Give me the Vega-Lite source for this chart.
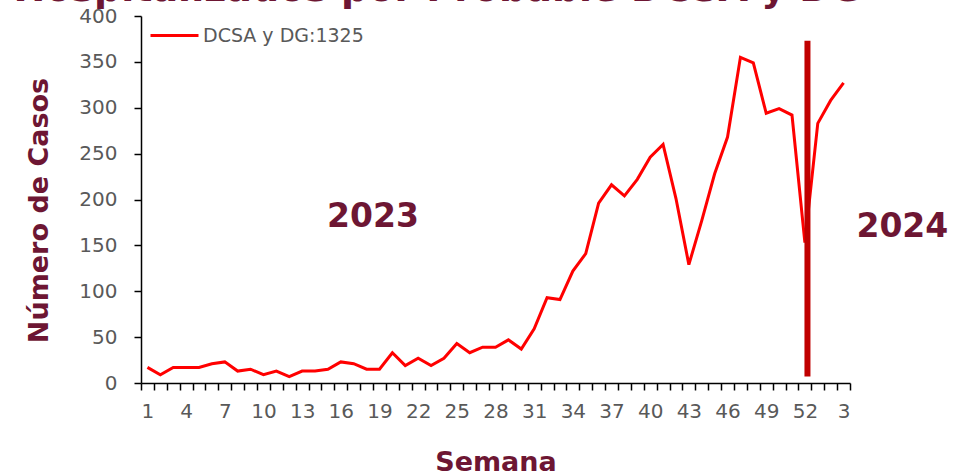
{
  "$schema": "https://vega.github.io/schema/vega-lite/v6.json",
  "width": 709,
  "height": 367,
  "autosize": {"type": "none"},
  "padding": {"left": 141, "top": 16, "right": 127, "bottom": 92},
  "background": "white",
  "title": {
    "text": "Casos Hospitalizados por Probable DCSA y DG",
    "anchor": "end",
    "frame": "group",
    "font": "DejaVu Sans",
    "fontSize": 38,
    "fontWeight": "bold",
    "color": "#6D1633",
    "baseline": "alphabetic",
    "offset": 0,
    "dx": 12,
    "dy": 33
  },
  "config": {
    "view": {"stroke": null},
    "axis": {
      "labelFont": "DejaVu Sans",
      "labelFontSize": 20,
      "labelColor": "#595959",
      "titleFont": "DejaVu Sans",
      "titleFontSize": 27,
      "titleFontWeight": "bold",
      "titleColor": "#6D1633",
      "domainColor": "#000000",
      "tickColor": "#000000",
      "domainWidth": 1.5,
      "tickWidth": 1.5,
      "tickSize": 7,
      "grid": false
    },
    "legend": {
      "labelFont": "DejaVu Sans",
      "labelFontSize": 19,
      "labelColor": "#595959",
      "labelLimit": 400
    }
  },
  "datasets": {
    "casos": [
      {"semana": 1, "casos": 17, "serie": "DCSA y DG:1325"},
      {"semana": 2, "casos": 9, "serie": "DCSA y DG:1325"},
      {"semana": 3, "casos": 17, "serie": "DCSA y DG:1325"},
      {"semana": 4, "casos": 17, "serie": "DCSA y DG:1325"},
      {"semana": 5, "casos": 17, "serie": "DCSA y DG:1325"},
      {"semana": 6, "casos": 21, "serie": "DCSA y DG:1325"},
      {"semana": 7, "casos": 23, "serie": "DCSA y DG:1325"},
      {"semana": 8, "casos": 13, "serie": "DCSA y DG:1325"},
      {"semana": 9, "casos": 15, "serie": "DCSA y DG:1325"},
      {"semana": 10, "casos": 9, "serie": "DCSA y DG:1325"},
      {"semana": 11, "casos": 13, "serie": "DCSA y DG:1325"},
      {"semana": 12, "casos": 7, "serie": "DCSA y DG:1325"},
      {"semana": 13, "casos": 13, "serie": "DCSA y DG:1325"},
      {"semana": 14, "casos": 13, "serie": "DCSA y DG:1325"},
      {"semana": 15, "casos": 15, "serie": "DCSA y DG:1325"},
      {"semana": 16, "casos": 23, "serie": "DCSA y DG:1325"},
      {"semana": 17, "casos": 21, "serie": "DCSA y DG:1325"},
      {"semana": 18, "casos": 15, "serie": "DCSA y DG:1325"},
      {"semana": 19, "casos": 15, "serie": "DCSA y DG:1325"},
      {"semana": 20, "casos": 33, "serie": "DCSA y DG:1325"},
      {"semana": 21, "casos": 19, "serie": "DCSA y DG:1325"},
      {"semana": 22, "casos": 27, "serie": "DCSA y DG:1325"},
      {"semana": 23, "casos": 19, "serie": "DCSA y DG:1325"},
      {"semana": 24, "casos": 27, "serie": "DCSA y DG:1325"},
      {"semana": 25, "casos": 43, "serie": "DCSA y DG:1325"},
      {"semana": 26, "casos": 33, "serie": "DCSA y DG:1325"},
      {"semana": 27, "casos": 39, "serie": "DCSA y DG:1325"},
      {"semana": 28, "casos": 39, "serie": "DCSA y DG:1325"},
      {"semana": 29, "casos": 47, "serie": "DCSA y DG:1325"},
      {"semana": 30, "casos": 37, "serie": "DCSA y DG:1325"},
      {"semana": 31, "casos": 59, "serie": "DCSA y DG:1325"},
      {"semana": 32, "casos": 93, "serie": "DCSA y DG:1325"},
      {"semana": 33, "casos": 91, "serie": "DCSA y DG:1325"},
      {"semana": 34, "casos": 122, "serie": "DCSA y DG:1325"},
      {"semana": 35, "casos": 141, "serie": "DCSA y DG:1325"},
      {"semana": 36, "casos": 196, "serie": "DCSA y DG:1325"},
      {"semana": 37, "casos": 216, "serie": "DCSA y DG:1325"},
      {"semana": 38, "casos": 204, "serie": "DCSA y DG:1325"},
      {"semana": 39, "casos": 222, "serie": "DCSA y DG:1325"},
      {"semana": 40, "casos": 246, "serie": "DCSA y DG:1325"},
      {"semana": 41, "casos": 260, "serie": "DCSA y DG:1325"},
      {"semana": 42, "casos": 201, "serie": "DCSA y DG:1325"},
      {"semana": 43, "casos": 129, "serie": "DCSA y DG:1325"},
      {"semana": 44, "casos": 177, "serie": "DCSA y DG:1325"},
      {"semana": 45, "casos": 228, "serie": "DCSA y DG:1325"},
      {"semana": 46, "casos": 268, "serie": "DCSA y DG:1325"},
      {"semana": 47, "casos": 355, "serie": "DCSA y DG:1325"},
      {"semana": 48, "casos": 349, "serie": "DCSA y DG:1325"},
      {"semana": 49, "casos": 294, "serie": "DCSA y DG:1325"},
      {"semana": 50, "casos": 299, "serie": "DCSA y DG:1325"},
      {"semana": 51, "casos": 292, "serie": "DCSA y DG:1325"},
      {"semana": 52, "casos": 153, "serie": "DCSA y DG:1325"},
      {"semana": 53, "casos": 283, "serie": "DCSA y DG:1325"},
      {"semana": 54, "casos": 308, "serie": "DCSA y DG:1325"},
      {"semana": 55, "casos": 327, "serie": "DCSA y DG:1325"}
    ],
    "corte": [
      {"semana": 52.2, "desde": 7, "hasta": 373}
    ],
    "anios": [
      {"semana": 18.5, "casos": 170.5, "etiqueta": "2023"},
      {"semana": 59.56, "casos": 159, "etiqueta": "2024"}
    ]
  },
  "layer": [
    {
      "data": {"name": "casos"},
      "mark": {"type": "line", "strokeWidth": 3, "interpolate": "linear"},
      "encoding": {
        "x": {
          "field": "semana",
          "type": "quantitative",
          "scale": {"domain": [0.5, 55.5], "nice": false, "zero": false},
          "axis": {
            "title": "Semana",
            "values": [0.5, 1.5, 2.5, 3.5, 4.5, 5.5, 6.5, 7.5, 8.5, 9.5, 10.5, 11.5, 12.5, 13.5, 14.5, 15.5, 16.5, 17.5, 18.5, 19.5, 20.5, 21.5, 22.5, 23.5, 24.5, 25.5, 26.5, 27.5, 28.5, 29.5, 30.5, 31.5, 32.5, 33.5, 34.5, 35.5, 36.5, 37.5, 38.5, 39.5, 40.5, 41.5, 42.5, 43.5, 44.5, 45.5, 46.5, 47.5, 48.5, 49.5, 50.5, 51.5, 52.5, 53.5, 54.5, 55.5],
            "tickCount": 200,
            "labelExpr": "((datum.value + 0.5 - 1) % 3 == 0 && datum.value < 55) ? ((datum.value + 0.5) > 52 ? (datum.value + 0.5 - 52) : (datum.value + 0.5)) : ''",
            "labelOffset": 6.45,
            "labelFlush": false,
            "labelOverlap": false,
            "labelBound": false,
            "labelPadding": 11,
            "titleY": 87,
            "titleBaseline": "alphabetic"
          }
        },
        "y": {
          "field": "casos",
          "type": "quantitative",
          "scale": {"domain": [0, 400], "nice": false},
          "axis": {
            "title": "Número de Casos",
            "values": [0, 50, 100, 150, 200, 250, 300, 350, 400],
            "tickCount": 20,
            "labelPadding": 17,
            "titleX": -94,
            "titleY": 194,
            "titleAlign": "center",
            "titleBaseline": "alphabetic",
            "titleAngle": -90
          }
        },
        "color": {
          "field": "serie",
          "type": "nominal",
          "scale": {"range": ["#FF0000"]},
          "legend": {
            "title": null,
            "orient": "none",
            "legendX": 8,
            "legendY": -6,
            "symbolType": "stroke",
            "symbolSize": 2304,
            "symbolStrokeWidth": 3,
            "labelOffset": 3
          }
        }
      }
    },
    {
      "data": {"name": "corte"},
      "mark": {"type": "rule", "color": "#C00000", "strokeWidth": 6},
      "encoding": {
        "x": {"field": "semana", "type": "quantitative"},
        "y": {"field": "desde", "type": "quantitative"},
        "y2": {"field": "hasta"}
      }
    },
    {
      "data": {"name": "anios"},
      "mark": {"type": "text", "font": "DejaVu Sans", "fontSize": 33, "fontWeight": "bold", "color": "#6D1633", "align": "center", "baseline": "alphabetic"},
      "encoding": {
        "x": {"field": "semana", "type": "quantitative"},
        "y": {"field": "casos", "type": "quantitative"},
        "text": {"field": "etiqueta", "type": "nominal"}
      }
    }
  ]
}
